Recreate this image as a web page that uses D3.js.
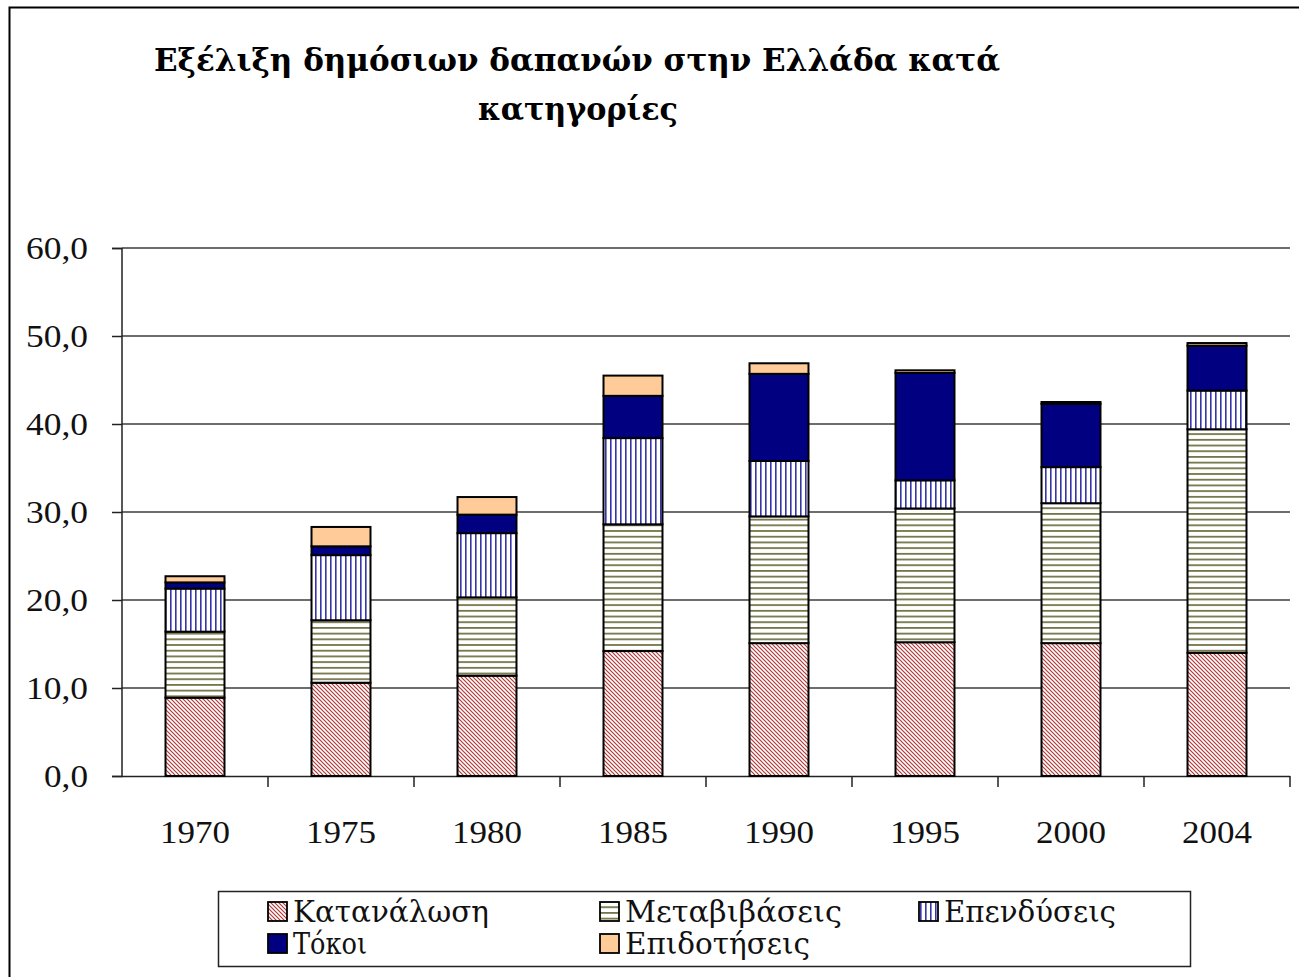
<!DOCTYPE html>
<html>
<head>
<meta charset="utf-8">
<script src="https://cdn.jsdelivr.net/npm/d3@7"></script>
<style>
  html, body { margin: 0; padding: 0; background: #fff; }
  svg { display: block; }
</style>
</head>
<body>
<svg id="chart" width="1299" height="977"></svg>
<script>
const years = ["1970", "1975", "1980", "1985", "1990", "1995", "2000", "2004"];
const seriesNames = ["Κατανάλωση", "Μεταβιβάσεις", "Επενδύσεις", "Τόκοι", "Επιδοτήσεις"];
const katanalosi   = [8.9, 10.6, 11.4, 14.2, 15.1, 15.2, 15.1, 14.0];
const metavivaseis = [7.5, 7.1, 8.9, 14.4, 14.4, 15.2, 15.9, 25.4];
const ependyseis   = [4.9, 7.4, 7.3, 9.8, 6.3, 3.2, 4.1, 4.4];
const tokoi        = [0.7, 1.0, 2.1, 4.8, 9.9, 12.2, 7.2, 5.1];
const epidotiseis  = [0.7, 2.2, 2.0, 2.3, 1.2, 0.3, 0.2, 0.3];
const yTicks = [0, 10, 20, 30, 40, 50, 60];
const titleLines = ["Εξέλιξη δημόσιων δαπανών στην Ελλάδα κατά", "κατηγορίες"];

const seriesValues = [katanalosi, metavivaseis, ependyseis, tokoi, epidotiseis];
const table = years.map((y, i) => {
  const row = { year: y };
  seriesNames.forEach((s, k) => row[s] = seriesValues[k][i]);
  return row;
});

const greekFont = "'DejaVu Serif', 'Liberation Serif', serif";
const digitFont = "'Liberation Serif', 'Times New Roman', serif";

const svg = d3.select("#chart");
const defs = svg.append("defs");

// Patterns
const pDiag = defs.append("pattern").attr("id", "p0").attr("patternUnits", "userSpaceOnUse")
  .attr("width", 4).attr("height", 4);
pDiag.append("rect").attr("width", 4).attr("height", 4).attr("fill", "#fff");
pDiag.append("path").attr("d", "M-1,-1 L5,5 M-1,3 L1,5 M3,-1 L5,1")
  .attr("stroke", "#b03a3a").attr("stroke-width", 1.2);

const pH = defs.append("pattern").attr("id", "p1").attr("patternUnits", "userSpaceOnUse")
  .attr("width", 6).attr("height", 5.7);
pH.append("rect").attr("width", 6).attr("height", 5.7).attr("fill", "#fff");
pH.append("rect").attr("y", 0).attr("width", 6).attr("height", 1.8).attr("fill", "#76764a");

const pV = defs.append("pattern").attr("id", "p2").attr("patternUnits", "userSpaceOnUse")
  .attr("width", 5).attr("height", 6);
pV.append("rect").attr("width", 5).attr("height", 6).attr("fill", "#fff");
pV.append("rect").attr("x", 0).attr("width", 1.6).attr("height", 6).attr("fill", "#3535a8");

const fills = ["url(#p0)", "url(#p1)", "url(#p2)", "#000080", "#ffcc99"];

// Outer frame
svg.append("rect").attr("x", 9.5).attr("y", 7.5).attr("width", 1300).attr("height", 980)
  .attr("fill", "none").attr("stroke", "#000").attr("stroke-width", 2);

// Title
svg.append("text").attr("x", 154).attr("y", 71)
  .attr("font-family", greekFont).attr("font-size", 31).attr("font-weight", "bold")
  .attr("textLength", 846).attr("lengthAdjust", "spacingAndGlyphs").text(titleLines[0]);
svg.append("text").attr("x", 478).attr("y", 120)
  .attr("font-family", greekFont).attr("font-size", 31).attr("font-weight", "bold")
  .attr("textLength", 200).attr("lengthAdjust", "spacingAndGlyphs").text(titleLines[1]);

// Scales
const x = d3.scaleBand().domain(years).range([122, 1290])
  .paddingInner(0.596).paddingOuter(0.298);
const y = d3.scaleLinear().domain([0, 60]).range([776, 248]);

// Gridlines
svg.append("g").selectAll("line").data(yTicks.filter(d => d > 0)).join("line")
  .attr("x1", 122).attr("x2", 1290)
  .attr("y1", d => y(d)).attr("y2", d => y(d))
  .attr("stroke", "#3c3c3c").attr("stroke-width", 1.3);

// Y axis
const yAxis = d3.axisLeft(y).tickValues(yTicks).tickSize(10).tickPadding(6)
  .tickFormat(d => d3.format(".1f")(d).replace(".", ","));
const gy = svg.append("g").attr("transform", "translate(122,0)").call(yAxis);
gy.select(".domain").attr("stroke", "#222").attr("stroke-width", 1.5).attr("d", "M-10,248.5H0V776.5H-10");
gy.selectAll(".tick line").attr("stroke", "#222").attr("stroke-width", 1.5);
gy.selectAll(".tick text").attr("font-family", digitFont).attr("font-size", 32)
  .attr("fill", "#111").attr("text-anchor", "end").attr("x", -34).attr("dy", "0.34em")
  .attr("textLength", d => d >= 10 ? 62 : 44).attr("lengthAdjust", "spacingAndGlyphs");

// X axis
const xAxis = d3.axisBottom(x).tickSize(0).tickPadding(0);
const gx = svg.append("g").attr("transform", "translate(0,776)").call(xAxis);
gx.select(".domain").attr("stroke", "#222").attr("stroke-width", 1.5).attr("d", "M122,0.5H1290");
gx.selectAll(".tick text").attr("font-family", digitFont).attr("font-size", 32)
  .attr("fill", "#111").attr("text-anchor", "start").attr("x", -35).attr("y", 67).attr("dy", 0)
  .attr("textLength", 70).attr("lengthAdjust", "spacingAndGlyphs");
// category boundary ticks
svg.append("g").selectAll("line").data(years).join("line")
  .attr("x1", d => x(d) + x.bandwidth() / 2 + x.step() / 2)
  .attr("x2", d => x(d) + x.bandwidth() / 2 + x.step() / 2)
  .attr("y1", 776).attr("y2", 787)
  .attr("stroke", "#222").attr("stroke-width", 1.5);

// Stacked bars
const stack = d3.stack().keys(seriesNames);
const stacked = stack(table);
svg.append("g").selectAll("g").data(stacked).join("g")
  .attr("fill", (d, i) => fills[i])
  .selectAll("rect").data(d => d).join("rect")
  .attr("x", d => x(d.data.year))
  .attr("width", x.bandwidth())
  .attr("y", d => y(d[1]))
  .attr("height", d => Math.max(0, y(d[0]) - y(d[1])))
  .attr("stroke", "#000").attr("stroke-width", 2);

// Legend
const lg = svg.append("g");
lg.append("rect").attr("x", 218.5).attr("y", 891.5).attr("width", 972).attr("height", 75)
  .attr("fill", "#fff").attr("stroke", "#222").attr("stroke-width", 1.5);
const legendPos = [
  { sx: 268, by: 922, tw: 196 }, { sx: 600, by: 922, tw: 217 }, { sx: 919, by: 922, tw: 172 },
  { sx: 268, by: 954, tw: 74 }, { sx: 600, by: 954, tw: 185 }
];
seriesNames.forEach((s, i) => {
  const p = legendPos[i];
  lg.append("rect").attr("x", p.sx).attr("y", p.by - 20).attr("width", 19).attr("height", 19)
    .attr("fill", fills[i]).attr("stroke", "#000").attr("stroke-width", 1.8);
  lg.append("text").attr("x", p.sx + 25).attr("y", p.by)
    .attr("font-family", greekFont).attr("font-size", 29).attr("fill", "#111")
    .attr("textLength", p.tw).attr("lengthAdjust", "spacingAndGlyphs").text(s);
});
</script>
</body>
</html>
